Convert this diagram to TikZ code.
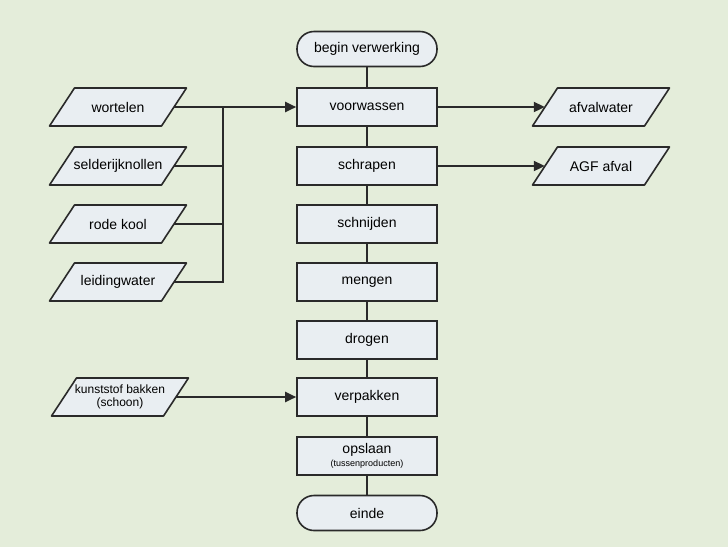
\documentclass[tikz,border=0pt]{standalone}
\usepackage{fontspec}
\setmainfont{Liberation Sans}
\usetikzlibrary{arrows.meta,positioning}
\definecolor{bgcol}{HTML}{E4EDDA}
\definecolor{boxcol}{HTML}{E9EEF2}
\definecolor{linecol}{HTML}{2A2A2A}
\tikzset{
  stepbox/.style={draw=linecol,fill=boxcol,line width=1.6pt,minimum width=140pt,minimum height=38pt,inner sep=0pt,font=\fontsize{14}{16}\selectfont},
  termbox/.style={stepbox,rounded corners=17pt,minimum height=35pt},
  ioline/.style={draw=linecol,fill=boxcol,line width=1.6pt,line join=round},
  iotext/.style={minimum width=112pt,minimum height=38pt,inner sep=0pt,font=\fontsize{14}{16}\selectfont},
  flow/.style={draw=linecol,line width=2pt},
  flowarrow/.style={flow,-{Triangle[length=11pt,width=10pt]}}
}
% parallelogram: name, centre, text
\newcommand{\iobox}[4][]{%
  \draw[ioline,shift={(#3)}] (-68.5,19) -- (-43.5,-19) -- (68.5,-19) -- (43.5,19) -- cycle;
  \node[iotext,#1] (#2) at (#3) {#4};}
\begin{document}
\begin{tikzpicture}[x=1pt,y=-1pt]
    % Background
    \fill[bgcol] (0,0) rectangle (728,547);
    \useasboundingbox (0,0) rectangle (728,547);
    % Main column
    \node[termbox] (begin) at (367,49) {begin verwerking};
    \node[stepbox] (voorwassen) at (367,107) {voorwassen};
    \node[stepbox] (schrapen) at (367,166) {schrapen};
    \node[stepbox] (schnijden) at (367,224) {schnijden};
    \node[stepbox] (mengen) at (367,282) {mengen};
    \node[stepbox] (drogen) at (367,340) {drogen};
    \node[stepbox] (verpakken) at (367,397) {verpakken};
    \node[stepbox,align=center] (opslaan) at (367,456) {opslaan\\[-3pt]{\fontsize{9}{10}\selectfont(tussenproducten)}};
    \node[termbox] (einde) at (367,513) {einde};
    \foreach \a/\b in {begin/voorwassen,voorwassen/schrapen,schrapen/schnijden,schnijden/mengen,mengen/drogen,drogen/verpakken,verpakken/opslaan,opslaan/einde}
      \draw[flow] (\a) -- (\b);
    % Inputs
    \iobox{wortelen}{118,107}{wortelen}
    \iobox{selderij}{118,166}{selderijknollen}
    \iobox{rodekool}{118,224}{rode kool}
    \iobox{leiding}{118,282}{leidingwater}
    \iobox[align=center,font=\fontsize{12}{13}\selectfont]{bakken}{120,397}{kunststof bakken\\(schoon)}
    \coordinate (join) at (223,107);
    \draw[flow] (wortelen.east) -- (join);
    \draw[flowarrow] (join) -- (voorwassen.west);
    \draw[flow] (leiding.east) -| (join);
    \foreach \n in {selderij,rodekool}
      \draw[flow] (\n.east) -- (\n.east -| join);
    \draw[flowarrow] (bakken.east) -- (verpakken.west);
    % Outputs
    \iobox{afvalwater}{601,107}{afvalwater}
    \iobox{agf}{601,166}{AGF afval}
    \draw[flowarrow] (voorwassen.east) -- (afvalwater.west);
    \draw[flowarrow] (schrapen.east) -- (agf.west);
\end{tikzpicture}
\end{document}
